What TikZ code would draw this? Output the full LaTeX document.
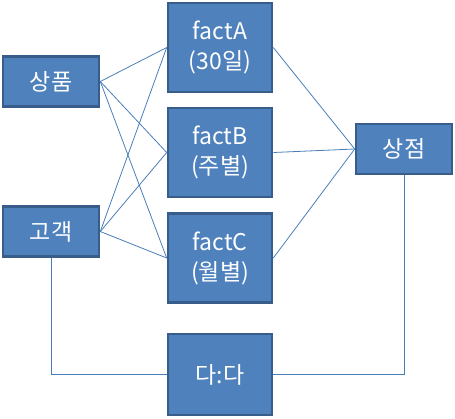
\documentclass[tikz,border=0pt]{standalone}
\usepackage{fontspec}
\setmainfont{Noto Sans CJK KR}
\definecolor{boxfill}{HTML}{4F81BD}
\definecolor{boxedge}{HTML}{385D8A}
\definecolor{linkblue}{HTML}{4A7EBB}
\usetikzlibrary{positioning}

\begin{document}
\begin{tikzpicture}[x=1pt, y=-1pt,
    ent/.style={draw=boxedge, fill=boxfill, line width=2.6pt, text=white, font=\fontsize{23}{30}\selectfont, align=center, inner sep=0pt},
    dim/.style={ent, minimum width=96pt, minimum height=50pt},
    fact/.style={ent, minimum width=104pt, minimum height=89pt},
    link/.style={draw=linkblue, line width=0.8pt}]
  \useasboundingbox (0,0) rectangle (455,418);

  % Dimension boxes
  \node[dim] (product) at (51,81.5) {상품};
  \node[dim] (customer) at (51,231.5) {고객};
  \node[dim] (store) at (404,149) {상점};

  % Fact boxes
  \node[fact] (factA) at (220,47.5) {factA\\(30일)};
  \node[fact] (factB) at (220,152.5) {factB\\(주별)};
  \node[fact] (factC) at (220,258) {factC\\(월별)};

  % Many-to-many box
  \node[ent, minimum width=104pt, minimum height=81pt] (mtm) at (220,374.5) {다:다};

  % Links
  \foreach \f in {factA,factB,factC} {
    \draw[link] (product.east) -- (\f.west);
    \draw[link] (customer.east) -- (\f.west);
    \draw[link] (\f.east) -- (store.west);
  }
  \draw[link] (customer.south) |- (mtm.west);
  \draw[link] (store.south) |- (mtm.east);
\end{tikzpicture}
\end{document}
